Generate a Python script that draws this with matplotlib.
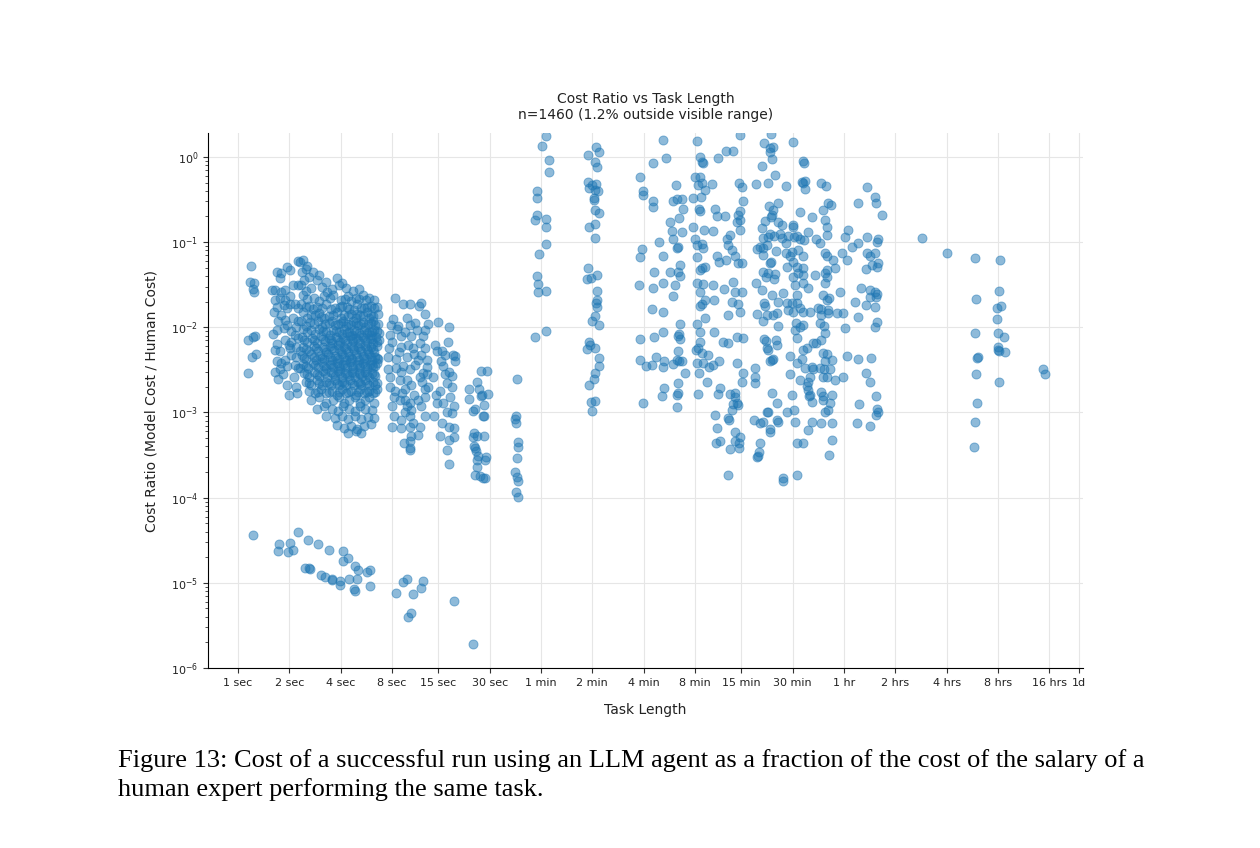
import matplotlib
matplotlib.use("Agg")
import matplotlib.pyplot as plt
from matplotlib.ticker import FixedLocator, LogLocator, NullFormatter

plt.rcParams['font.family'] = ['DejaVu Sans']

# (task length in seconds, model cost / human cost)
col_1s = [(1.2, 0.053), (1.17, 0.034), (1.24, 0.033), (1.22, 0.028), (1.25, 0.026), (1.15, 0.0071),
          (1.22, 0.0077), (1.26, 0.0080), (1.21, 0.0045), (1.28, 0.0049), (1.14, 0.0029)]

col_2s = [(1.69, 0.045), (1.76, 0.0376), (1.93, 0.051), (2.02, 0.047), (1.80, 0.043), (2.26, 0.060),
          (2.11, 0.031), (2.24, 0.031), (1.65, 0.0275), (1.80, 0.0262), (1.89, 0.0275), (1.65, 0.021),
          (1.76, 0.022), (1.89, 0.021), (2.02, 0.023), (1.69, 0.0175), (1.85, 0.0183), (1.93, 0.0167),
          (2.02, 0.019), (2.16, 0.019), (2.26, 0.0167), (1.58, 0.0275), (1.72, 0.0117), (1.89, 0.0122),
          (1.69, 0.0093), (1.85, 0.0097), (2.20, 0.0102), (2.26, 0.0117), (2.06, 0.0091), (1.89, 0.0071),
          (2.06, 0.0068), (2.26, 0.0075), (2.20, 0.0059), (2.02, 0.0057), (1.65, 0.0054), (1.76, 0.0052),
          (1.69, 0.0040), (1.80, 0.0038), (1.89, 0.0041), (2.06, 0.0047), (2.20, 0.0045), (1.65, 0.0030),
          (1.76, 0.0032), (1.93, 0.0035), (2.16, 0.0036), (2.26, 0.0033), (1.72, 0.0025), (1.93, 0.0021),
          (2.20, 0.0020), (1.62, 0.015), (1.78, 0.014), (2.1, 0.013), (1.95, 0.0105), (2.15, 0.0082),
          (1.7, 0.0064), (1.98, 0.0062), (2.12, 0.0026), (1.84, 0.0028), (2.0, 0.0016), (2.22, 0.0017),
          (1.6, 0.0083)]

col_4s = [
    (2.30, 0.058), (2.42, 0.062), (2.55, 0.052),
    (2.36, 0.045), (2.50, 0.048), (2.74, 0.044), (3.0, 0.041),
    (2.45, 0.036), (2.62, 0.039), (2.9, 0.036), (3.3, 0.034), (3.8, 0.038), (4.1, 0.033),
    (2.35, 0.031), (2.52, 0.027), (2.7, 0.029), (3.1, 0.030), (3.35, 0.026), (3.55, 0.028), (3.9, 0.031),
    (4.3, 0.029), (4.7, 0.027), (5.1, 0.028),
    (2.4, 0.024), (2.8, 0.022), (3.0, 0.0205), (3.2, 0.023), (3.6, 0.024), (4.0, 0.021), (4.4, 0.023),
    (4.6, 0.0205), (4.9, 0.022), (5.4, 0.024), (5.9, 0.022), (6.3, 0.021),
    (2.35, 0.019), (2.6, 0.018), (2.75, 0.0163), (2.9, 0.0175), (3.3, 0.019), (3.5, 0.0162), (3.7, 0.017),
    (4.1, 0.018), (4.5, 0.0165), (4.8, 0.016), (5.0, 0.019), (5.5, 0.017), (6.0, 0.018), (6.5, 0.0175),
    (2.4, 0.015), (2.55, 0.013), (2.7, 0.014), (3.0, 0.0148), (3.2, 0.0128), (3.4, 0.0135), (3.8, 0.015),
    (4.0, 0.013), (4.2, 0.014), (4.6, 0.0145), (4.9, 0.0128), (5.2, 0.0138), (5.7, 0.015), (5.9, 0.013),
    (6.2, 0.0135), (6.6, 0.0142),
    (2.35, 0.012), (2.5, 0.0104), (2.65, 0.0115), (2.95, 0.0118), (3.1, 0.0102), (3.25, 0.011), (3.55, 0.012),
    (3.85, 0.0108), (4.15, 0.0117), (4.3, 0.0103), (4.45, 0.011), (4.75, 0.0119), (5.05, 0.0107),
    (5.4, 0.0115), (5.6, 0.0101), (5.8, 0.0108), (6.2, 0.0118), (6.6, 0.011),
    (2.4, 0.0095), (2.7, 0.0092), (2.85, 0.0083), (3.0, 0.0096), (3.3, 0.0088), (3.45, 0.0082), (3.6, 0.0094),
    (3.9, 0.0087), (4.05, 0.0083), (4.2, 0.0095), (4.5, 0.0089), (4.65, 0.0082), (4.8, 0.0093), (5.1, 0.0086),
    (5.3, 0.0081), (5.5, 0.0094), (5.9, 0.0088), (6.0, 0.0082), (6.3, 0.0092), (6.7, 0.0086),
    (2.38, 0.0076), (2.55, 0.0068), (2.72, 0.0074), (2.9, 0.0066), (3.08, 0.0078), (3.22, 0.0069),
    (3.4, 0.0075), (3.58, 0.0065), (3.75, 0.0077), (3.95, 0.0068), (4.12, 0.0074), (4.35, 0.0066),
    (4.55, 0.0078), (4.75, 0.0069), (4.95, 0.0075), (5.2, 0.0065), (5.45, 0.0076), (5.7, 0.0068),
    (5.95, 0.0074), (6.2, 0.0066), (6.45, 0.0077), (6.7, 0.007),
    (2.42, 0.0059), (2.6, 0.0053), (2.78, 0.0061), (2.96, 0.0052), (3.14, 0.0058), (3.3, 0.0051),
    (3.48, 0.006), (3.66, 0.0054), (3.84, 0.0062), (4.02, 0.0052), (4.2, 0.0058), (4.4, 0.0051),
    (4.6, 0.0061), (4.82, 0.0054), (5.05, 0.0059), (5.3, 0.0052), (5.55, 0.006), (5.8, 0.0053),
    (6.05, 0.0058), (6.3, 0.0051), (6.55, 0.006), (2.3, 0.0052),
    (2.36, 0.0047), (2.52, 0.0042), (2.7, 0.0048), (2.88, 0.0041), (3.04, 0.0046), (3.2, 0.0042),
    (3.38, 0.0048), (3.55, 0.0041), (3.72, 0.0046), (3.9, 0.0043), (4.08, 0.0048), (4.28, 0.0041),
    (4.48, 0.0046), (4.68, 0.0042), (4.9, 0.0048), (5.12, 0.0041), (5.38, 0.0046), (5.62, 0.0043),
    (5.88, 0.0048), (6.12, 0.0041), (6.4, 0.0045), (6.65, 0.0042),
    (2.4, 0.0037), (2.58, 0.0033), (2.76, 0.0038), (2.94, 0.0034), (3.1, 0.0039), (3.28, 0.0033),
    (3.45, 0.0037), (3.62, 0.0034), (3.8, 0.0038), (3.98, 0.0033), (4.16, 0.0037), (4.36, 0.0034),
    (4.56, 0.0039), (4.76, 0.0033), (4.98, 0.0037), (5.2, 0.0034), (5.45, 0.0038), (5.7, 0.0033),
    (5.95, 0.0037), (6.2, 0.0034), (6.5, 0.0038), (2.32, 0.0033),
    (2.45, 0.0029), (2.62, 0.0026), (2.8, 0.003), (2.98, 0.0027), (3.16, 0.0031), (3.34, 0.0026),
    (3.52, 0.003), (3.7, 0.0027), (3.88, 0.0031), (4.06, 0.0026), (4.26, 0.0029), (4.46, 0.0027),
    (4.66, 0.003), (4.88, 0.0026), (5.1, 0.0029), (5.35, 0.0027), (5.6, 0.003), (5.85, 0.0026),
    (6.1, 0.0029), (6.4, 0.0027),
    (2.5, 0.0023), (2.7, 0.0021), (2.9, 0.0024), (3.1, 0.0021), (3.3, 0.0023), (3.5, 0.0021), (3.7, 0.0024),
    (3.9, 0.0021), (4.1, 0.0023), (4.3, 0.0021), (4.55, 0.0024), (4.8, 0.0021), (5.05, 0.0023),
    (5.3, 0.0021), (5.6, 0.0024), (5.9, 0.0021), (6.2, 0.0023), (6.5, 0.0022),
    (2.6, 0.0018), (2.85, 0.0017), (3.05, 0.0019), (3.3, 0.0017), (3.55, 0.0018), (3.8, 0.0016),
    (4.05, 0.0019), (4.3, 0.0017), (4.6, 0.0018), (4.9, 0.0016), (5.2, 0.0019), (5.5, 0.0017),
    (5.85, 0.0018), (6.2, 0.0017), (6.5, 0.0019),
    (2.7, 0.0014), (3.0, 0.0015), (3.3, 0.0013), (3.6, 0.0014), (3.9, 0.0015), (4.2, 0.0013), (4.5, 0.0014),
    (4.85, 0.0015), (5.2, 0.0013), (5.55, 0.0014), (5.9, 0.0015), (6.3, 0.0013),
    (2.9, 0.0011), (3.2, 0.0012), (3.55, 0.0011), (3.85, 0.00105), (4.15, 0.0012), (4.5, 0.0011),
    (4.85, 0.00103), (5.2, 0.0012), (5.6, 0.0011), (6.1, 0.00108),
    (3.3, 0.0009), (3.7, 0.00085), (4.05, 0.00092), (4.45, 0.00084), (4.85, 0.0009), (5.3, 0.00083),
    (5.8, 0.00088), (6.3, 0.00086),
    (3.8, 0.00072), (4.2, 0.00066), (4.6, 0.0007), (5.0, 0.00064), (5.5, 0.00069), (6.0, 0.00073),
    (4.4, 0.00058), (4.9, 0.0006), (5.3, 0.00057)]

# the packed middle of the 2-7 sec mass
col_4s_core = [
    (2.55, 0.0215), (3.45, 0.0218), (4.25, 0.0212), (5.15, 0.0216), (5.65, 0.021),
    (2.5, 0.0172), (3.1, 0.0168), (3.95, 0.0174), (4.35, 0.0171), (5.25, 0.0169), (5.75, 0.0173), (6.25, 0.0168),
    (2.85, 0.0139), (3.6, 0.0141), (4.4, 0.0137), (5.0, 0.0142), (5.45, 0.0136), (6.0, 0.014), (3.05, 0.0131),
    (2.8, 0.0108), (3.4, 0.0113), (3.7, 0.0105), (4.0, 0.0112), (4.6, 0.0106), (4.9, 0.0113), (5.25, 0.0109),
    (6.0, 0.0113), (6.4, 0.0105),
    (2.55, 0.0087), (3.15, 0.009), (3.75, 0.009), (4.35, 0.0086), (4.95, 0.009), (5.7, 0.0085), (6.15, 0.0089),
    (6.55, 0.009),
    (2.45, 0.0071), (2.8, 0.0071), (3.15, 0.0072), (3.5, 0.007), (3.85, 0.0071), (4.25, 0.0071), (4.65, 0.0072),
    (5.05, 0.007), (5.6, 0.0071), (6.1, 0.0072), (6.55, 0.0068),
    (2.5, 0.0056), (2.88, 0.0057), (3.22, 0.0055), (3.57, 0.0057), (3.93, 0.0056), (4.3, 0.0055), (4.7, 0.0057),
    (5.17, 0.0055), (5.68, 0.0056), (6.18, 0.0055),
    (2.45, 0.0044), (2.8, 0.0045), (3.13, 0.0044), (3.46, 0.0045), (3.8, 0.0044), (4.18, 0.0045), (4.58, 0.0044),
    (5.0, 0.0045), (5.5, 0.0044), (6.0, 0.0045), (6.55, 0.0044),
    (2.5, 0.0035), (2.85, 0.0036), (3.2, 0.0035), (3.53, 0.0036), (3.9, 0.0035), (4.26, 0.0036), (4.66, 0.0035),
    (5.1, 0.0036), (5.58, 0.0035), (6.08, 0.0036), (6.35, 0.0035),
    (2.55, 0.0028), (2.9, 0.0028), (3.25, 0.0029), (3.6, 0.0028), (3.97, 0.0029), (4.36, 0.0028), (4.77, 0.0029),
    (5.22, 0.0028), (5.72, 0.0028), (6.25, 0.0028),
    (2.6, 0.0022), (3.0, 0.0022), (3.4, 0.0022), (3.8, 0.0022), (4.2, 0.0022), (4.68, 0.0022), (5.18, 0.0022),
    (5.75, 0.0022), (6.35, 0.0021),
    (2.95, 0.00175), (3.42, 0.00172), (3.92, 0.00175), (4.45, 0.00172), (5.05, 0.00175), (5.68, 0.00172),
    (6.35, 0.00175)]

col_8s = [(8.34, 0.022), (9.3, 0.0187), (10.2, 0.0187), (11.9, 0.0195), (11.6, 0.0178), (12.5, 0.0144),
          (8.15, 0.0125), (9.8, 0.0127), (7.9, 0.0107), (8.7, 0.0104), (10.2, 0.0107), (11.3, 0.0093),
          (12.5, 0.0093), (7.8, 0.0081), (9.1, 0.0078), (10.4, 0.0079), (12.2, 0.0079), (8.0, 0.0068),
          (10.0, 0.0062), (11.7, 0.0065), (9.1, 0.0059), (10.6, 0.0057), (12.5, 0.0057), (7.6, 0.0045),
          (8.5, 0.0043), (9.8, 0.0045), (11.4, 0.0041), (12.8, 0.0041), (9.3, 0.0035), (10.2, 0.0032),
          (12.2, 0.0029), (7.8, 0.0026), (8.9, 0.0024), (9.8, 0.0024), (11.7, 0.0026), (12.8, 0.0028),
          (7.8, 0.0020), (8.3, 0.0018), (9.5, 0.0019), (10.4, 0.0021), (12.5, 0.0019), (13.1, 0.0020),
          (8.2, 0.0015), (8.9, 0.0014), (9.5, 0.0014), (10.2, 0.0013), (11.4, 0.0014), (12.5, 0.0015),
          (8.0, 0.0012), (9.8, 0.0012), (10.4, 0.00107), (12.5, 0.0009), (8.2, 0.0009), (9.1, 0.00082),
          (10.2, 0.0009), (10.7, 0.00075), (11.7, 0.00068), (8.0, 0.00068), (9.1, 0.00065), (10.2, 0.00068),
          (11.4, 0.00055), (10.4, 0.00053), (9.4, 0.00044), (10.2, 0.00046), (10.2, 0.00036), (10.2, 0.00038),
          (8.6, 0.0095), (9.6, 0.0088), (11.0, 0.0112), (7.7, 0.0057), (8.8, 0.0051), (10.8, 0.0049),
          (11.9, 0.0047), (8.4, 0.0033), (9.0, 0.0030), (11.0, 0.0036), (12.0, 0.0023), (9.2, 0.0017),
          (10.8, 0.0016), (11.9, 0.0012), (9.6, 0.0010), (12.9, 0.0034), (7.6, 0.0032), (13.0, 0.011)]

col_15s = [(14.9, 0.0115), (17.3, 0.0102), (17.1, 0.0068), (15.7, 0.0052), (16.4, 0.0047), (14.7, 0.0053),
           (18.3, 0.0047), (18.8, 0.0040), (18.8, 0.0046), (16.0, 0.0035), (17.2, 0.0030), (16.4, 0.0028),
           (16.8, 0.0022), (17.9, 0.0020), (15.3, 0.0018), (14.7, 0.0013), (16.0, 0.0013), (18.4, 0.0012),
           (16.8, 0.0010), (15.7, 0.00076), (17.2, 0.00068), (18.4, 0.00065), (17.9, 0.00098), (15.3, 0.00053),
           (17.2, 0.00048), (18.4, 0.00052), (16.8, 0.00036), (17.2, 0.00025), (14.3, 0.0062), (15.5, 0.0040),
           (14.0, 0.0026), (18.0, 0.0027), (14.5, 0.0016), (17.5, 0.0015), (14.2, 0.0009)]

col_30s = [(26.7, 0.0031), (28.9, 0.0031), (25.1, 0.0023), (22.6, 0.0019), (22.8, 0.00145), (26.0, 0.0019),
           (26.7, 0.00154), (26.9, 0.0016), (29.3, 0.00166), (27.8, 0.00123), (24.6, 0.0011), (24.0, 0.00104),
           (27.9, 0.00091), (25.1, 0.00053), (24.0, 0.00052), (27.8, 0.00053), (24.6, 0.00038), (24.9, 0.00035),
           (24.3, 0.0004), (25.3, 0.00028), (28.7, 0.0003), (28.1, 0.00028), (25.3, 0.00023), (24.6, 0.000186),
           (26.2, 0.00018), (28.1, 0.00017), (27.4, 0.00017), (24.3, 0.00058), (25.6, 0.00031), (27.3, 0.0009)]

col_45s = [(43.4, 0.00248), (43.0, 0.00091), (42.3, 0.00084), (43.0, 0.00076), (43.9, 0.000456),
           (44.1, 0.00039), (43.4, 0.00029), (42.3, 0.000202), (43.4, 0.000177), (44.1, 0.000155),
           (43.0, 0.000118), (44.1, 0.000103)]

col_1min = [(64, 1.76), (60.5, 1.35), (67, 0.92), (67, 0.67), (57.2, 0.40), (56.8, 0.33), (56.7, 0.21),
            (55.1, 0.18), (64.2, 0.187), (64, 0.152), (64, 0.094), (58, 0.072), (56.8, 0.040), (57.5, 0.032),
            (57.7, 0.026), (64.5, 0.027), (64.2, 0.009), (55.5, 0.0076)]

col_2min = [(126, 1.32), (131, 1.15), (113, 1.05), (124, 0.88), (128, 0.77), (113, 0.51), (114, 0.43),
            (120, 0.47), (126, 0.48), (130, 0.40), (124, 0.41), (122, 0.33), (122, 0.31), (124, 0.24),
            (131, 0.22), (125, 0.164), (115, 0.152), (124, 0.111), (113, 0.050), (112, 0.037), (118, 0.038),
            (127, 0.041), (127, 0.027), (127, 0.021), (126, 0.0195), (128, 0.0175), (125, 0.0137), (119, 0.012),
            (131, 0.0105), (114, 0.0068), (117, 0.0062), (112, 0.0055), (125, 0.0057), (131, 0.0044),
            (132, 0.0035), (124, 0.0029), (122, 0.0025), (115, 0.0021), (124, 0.00138), (118, 0.00131),
            (120, 0.00104)]

col_4to15min = [
    (310, 1.58), (491, 1.54), (878, 1.81), (271, 0.85), (323, 0.97), (511, 1.0), (525, 0.87), (532, 0.85),
    (652, 0.97), (726, 1.18), (798, 1.18), (230, 0.58), (237, 0.40), (237, 0.36), (370, 0.47), (478, 0.58),
    (511, 0.58), (497, 0.47), (525, 0.50), (547, 0.41), (601, 0.48), (271, 0.30), (271, 0.26), (355, 0.30),
    (375, 0.32), (401, 0.32), (407, 0.245), (465, 0.33), (518, 0.34), (504, 0.245), (511, 0.23), (626, 0.245),
    (643, 0.20), (717, 0.20), (866, 0.50), (902, 0.445), (914, 0.30), (878, 0.23), (855, 0.21), (843, 0.17),
    (878, 0.14), (878, 0.18), (341, 0.17), (385, 0.19), (351, 0.135), (402, 0.13), (355, 0.11), (465, 0.15),
    (540, 0.14), (609, 0.135), (294, 0.10), (380, 0.088), (375, 0.086), (478, 0.11), (525, 0.095),
    (491, 0.093), (736, 0.11), (767, 0.12), (746, 0.093), (788, 0.081), (234, 0.083), (227, 0.067),
    (310, 0.069), (532, 0.086), (643, 0.069), (661, 0.059), (726, 0.062), (820, 0.069), (855, 0.057),
    (902, 0.057), (491, 0.067), (525, 0.050), (511, 0.047), (547, 0.051), (390, 0.054), (341, 0.044),
    (380, 0.045), (390, 0.040), (275, 0.044), (224, 0.031), (271, 0.029), (310, 0.033), (365, 0.031),
    (355, 0.023), (491, 0.033), (511, 0.026), (532, 0.032), (609, 0.031), (525, 0.019), (511, 0.018),
    (547, 0.021), (547, 0.013), (618, 0.021), (707, 0.028), (798, 0.034), (820, 0.026), (788, 0.020),
    (902, 0.026), (855, 0.019), (267, 0.0165), (310, 0.015), (491, 0.011), (746, 0.014), (878, 0.015),
    (390, 0.011), (385, 0.0084), (380, 0.0079), (390, 0.0073), (227, 0.0073), (275, 0.0077), (310, 0.0088),
    (511, 0.0088), (618, 0.0088), (511, 0.0068), (484, 0.0054), (497, 0.0057), (697, 0.0068), (746, 0.0066),
    (843, 0.0077), (914, 0.0075), (569, 0.0047), (525, 0.0050), (380, 0.0053), (385, 0.0040), (375, 0.0041),
    (401, 0.0040), (230, 0.0041), (247, 0.0035), (267, 0.0036), (282, 0.0045), (318, 0.0040), (310, 0.0034),
    (355, 0.0037), (417, 0.0029), (491, 0.0038), (532, 0.0038), (583, 0.0034), (609, 0.0036), (661, 0.0040),
    (504, 0.0029), (843, 0.0038), (914, 0.0029), (902, 0.0023), (562, 0.0023), (380, 0.0022), (380, 0.0017),
    (375, 0.0016), (375, 0.00117), (318, 0.00192), (306, 0.00155), (237, 0.00128), (497, 0.00166),
    (670, 0.00192), (652, 0.00166), (767, 0.00166), (820, 0.0017), (820, 0.0015), (843, 0.0013),
    (855, 0.00122), (798, 0.00126), (788, 0.00107), (626, 0.00093), (746, 0.00085), (634, 0.00044),
    (670, 0.00046), (643, 0.00066), (756, 0.00082), (820, 0.00059), (878, 0.00051), (866, 0.00044),
    (820, 0.00046), (866, 0.00038), (767, 0.00037), (746, 0.000185)]

col_15to90min = [
    (1334, 1.86), (1214, 1.46), (1316, 1.28), (1370, 1.31), (1316, 1.145), (1796, 1.50), (1352, 0.947),
    (1181, 0.784), (1408, 0.615), (1089, 0.48), (1280, 0.495), (1633, 0.457), (2055, 0.90), (2083, 0.85),
    (2027, 0.51), (2055, 0.495), (2111, 0.52), (2111, 0.42), (2653, 0.495), (2805, 0.457), (4938, 0.445),
    (5435, 0.34), (5509, 0.288), (5975, 0.209), (4365, 0.288), (2880, 0.288), (3004, 0.273), (2692, 0.239),
    (2766, 0.182), (2843, 0.151), (1994, 0.227), (2321, 0.198), (1297, 0.266), (1370, 0.239), (1484, 0.288),
    (1352, 0.209), (1334, 0.198), (1230, 0.177), (1465, 0.172), (1550, 0.159), (1181, 0.147), (1105, 0.083),
    (1197, 0.112), (1280, 0.115), (1316, 0.125), (1389, 0.118), (1508, 0.125), (1550, 0.112), (1796, 0.159),
    (1796, 0.151), (1678, 0.118), (1820, 0.115), (1895, 0.118), (1975, 0.109), (2083, 0.106), (1633, 0.098),
    (2200, 0.132), (2450, 0.109), (2616, 0.098), (2843, 0.121), (3082, 0.062), (3775, 0.14), (3625, 0.115),
    (3984, 0.088), (4320, 0.098), (4938, 0.115), (5585, 0.10), (5661, 0.109), (1152, 0.088), (1197, 0.086),
    (1263, 0.093), (1197, 0.0707), (1427, 0.079), (1633, 0.075), (1772, 0.077), (1725, 0.0688), (1942, 0.081),
    (2055, 0.0688), (2766, 0.075), (2843, 0.0688), (3480, 0.075), (3722, 0.0618), (4938, 0.075), (5075, 0.069),
    (5435, 0.075), (5661, 0.057), (1316, 0.057), (1334, 0.059), (1197, 0.0448), (1280, 0.0436), (1246, 0.0394),
    (1408, 0.0424), (1389, 0.037), (1656, 0.051), (1796, 0.059), (1895, 0.051), (2055, 0.05), (1796, 0.0394),
    (1942, 0.0436), (2055, 0.041), (2416, 0.041), (2766, 0.0436), (2843, 0.0394), (2766, 0.033), (3166, 0.05),
    (2843, 0.047), (4870, 0.0483), (5218, 0.054), (5585, 0.051), (1089, 0.033), (1181, 0.0275), (1570, 0.0254),
    (1352, 0.024), (1214, 0.0194), (1230, 0.0178), (1484, 0.0199), (1656, 0.0194), (1845, 0.0314),
    (2055, 0.033), (2200, 0.029), (1895, 0.024), (2692, 0.024), (2922, 0.022), (2843, 0.021), (2880, 0.016),
    (2653, 0.0164), (3390, 0.026), (4550, 0.029), (5075, 0.0275), (5435, 0.026), (5585, 0.0247),
    (5075, 0.0227), (5509, 0.0227), (4149, 0.0199), (4870, 0.0183), (5435, 0.0174), (1772, 0.0194),
    (1895, 0.0194), (1994, 0.0169), (2055, 0.0152), (2260, 0.0152), (1796, 0.0152), (1678, 0.016),
    (1105, 0.0144), (1263, 0.014), (1370, 0.014), (1446, 0.0147), (1197, 0.0117), (1465, 0.0104),
    (2533, 0.0169), (2653, 0.014), (2880, 0.0147), (3253, 0.0147), (3528, 0.0147), (1869, 0.0113),
    (1994, 0.0101), (1845, 0.0093), (2055, 0.0107), (1895, 0.0075), (2616, 0.0113), (2729, 0.0104),
    (2766, 0.0086), (3625, 0.0099), (4320, 0.0132), (5435, 0.0101), (5585, 0.0115), (1214, 0.0073),
    (1246, 0.0069), (1427, 0.0071), (1446, 0.0062), (1263, 0.0057), (1352, 0.0041), (1316, 0.0040),
    (1370, 0.0042), (1280, 0.0054), (2055, 0.0054), (2168, 0.0057), (2352, 0.0066), (2450, 0.0066),
    (2621, 0.0071), (1725, 0.0046), (2027, 0.0043), (1895, 0.0038), (2692, 0.0050), (2843, 0.0048),
    (2766, 0.0040), (3042, 0.0041), (2960, 0.0032), (2729, 0.0032), (2616, 0.0033), (2692, 0.0026),
    (2843, 0.0026), (2321, 0.0034), (2111, 0.0033), (2352, 0.0032), (3722, 0.0046), (4320, 0.0042),
    (5146, 0.0044), (1074, 0.0033), (1074, 0.0026), (1074, 0.0022), (1725, 0.0028), (1975, 0.0024),
    (2200, 0.0023), (2260, 0.0026), (3528, 0.0026), (3166, 0.0024), (4870, 0.0029), (5075, 0.0023),
    (2168, 0.00204), (2200, 0.00184), (2260, 0.0016), (2321, 0.00131), (2230, 0.00155), (2653, 0.00172),
    (2692, 0.00155), (2692, 0.0014), (3042, 0.0016), (2960, 0.00128), (1772, 0.0016), (1352, 0.0017),
    (1446, 0.00128), (4380, 0.00125), (5509, 0.00155), (5585, 0.0011), (5661, 0.0010), (5509, 0.00093),
    (1263, 0.00102), (1280, 0.00102), (1060, 0.00082), (1152, 0.00075), (1197, 0.00077), (1316, 0.00064),
    (1316, 0.00059), (1484, 0.00077), (1446, 0.00082), (1656, 0.0010), (1820, 0.00107), (1845, 0.00077),
    (2321, 0.00077), (2653, 0.00075), (2766, 0.00102), (2880, 0.00107), (3042, 0.00075), (4260, 0.00075),
    (5075, 0.00069), (2200, 0.00062), (1895, 0.00044), (2055, 0.00044), (1152, 0.00044), (1138, 0.00034),
    (1105, 0.00030), (1120, 0.00031), (3042, 0.00048), (2922, 0.00032), (1570, 0.000168), (1570, 0.000155),
    (1895, 0.000185)]

col_hours = [(10300, 0.112), (14500, 0.0747), (21100, 0.0653), (29500, 0.0618), (29100, 0.0267),
             (21400, 0.0215), (28500, 0.0169), (29900, 0.0178), (28500, 0.0126), (21100, 0.0086),
             (28800, 0.0086), (31100, 0.0077), (28800, 0.0059), (28800, 0.0054), (29200, 0.0053),
             (31800, 0.0051), (22100, 0.0045), (21700, 0.0044), (21400, 0.0028), (29200, 0.0023),
             (52900, 0.0032), (54400, 0.0028), (21700, 0.0013), (21100, 0.00078), (20800, 0.00039)]

cheap_runs = [(1.22, 3.6e-5), (1.75, 2.87e-5), (2.02, 2.97e-5), (1.72, 2.38e-5), (1.96, 2.29e-5),
              (2.11, 2.44e-5), (2.26, 3.9e-5), (2.58, 3.2e-5), (2.93, 2.87e-5), (3.41, 2.46e-5),
              (4.12, 2.34e-5), (4.44, 1.95e-5), (4.15, 1.78e-5), (4.86, 1.58e-5), (5.07, 1.42e-5),
              (5.95, 1.4e-5), (5.75, 1.34e-5), (2.47, 1.51e-5), (2.64, 1.45e-5), (2.6, 1.48e-5),
              (3.06, 1.22e-5), (3.24, 1.17e-5), (3.54, 1.1e-5), (3.58, 1.08e-5), (3.97, 1.05e-5),
              (3.97, 9.4e-6), (4.48, 1.1e-5), (5.0, 1.12e-5), (4.8, 8.4e-6), (4.86, 8.1e-6), (5.95, 9.1e-6),
              (9.3, 1.03e-5), (9.75, 1.1e-5), (8.5, 7.6e-6), (10.7, 7.4e-6), (12.2, 1.05e-5), (11.8, 8.8e-6),
              (10.3, 4.4e-6), (9.9, 4.0e-6), (18.4, 6.2e-6), (23.8, 1.93e-6)]

tick_seconds = [1, 2, 4, 8, 15, 30, 60, 120, 240, 480, 900, 1800, 3600, 7200, 14400, 28800, 57600, 86400]
tick_labels = ['1 sec', '2 sec', '4 sec', '8 sec', '15 sec', '30 sec', '1 min', '2 min', '4 min', '8 min',
               '15 min', '30 min', '1 hr', '2 hrs', '4 hrs', '8 hrs', '16 hrs', '1d']

groups = [col_1s, col_2s, col_4s, col_4s_core, col_8s, col_15s, col_30s, col_45s, col_1min, col_2min,
          col_4to15min, col_15to90min, col_hours, cheap_runs]
pts = [p for g in groups for p in g]
xs = [p[0] for p in pts]
ys = [p[1] for p in pts]

fig = plt.figure(figsize=(12.6, 8.48), dpi=100)
ax = fig.add_axes([208 / 1260, 180 / 848, 875 / 1260, 535 / 848])

ax.scatter(xs, ys, s=42, color='#1f77b4', alpha=0.5, edgecolors='#1f77b4', linewidths=0.7, zorder=3)

ax.set_xscale('log')
ax.set_yscale('log')
ax.set_xlim(0.667, 90800)
ax.set_ylim(1e-6, 1.91)

ax.xaxis.set_major_locator(FixedLocator(tick_seconds))
ax.set_xticklabels(tick_labels)
ax.xaxis.set_minor_formatter(NullFormatter())
ax.xaxis.set_minor_locator(FixedLocator([]))
ax.yaxis.set_major_locator(LogLocator(base=10, numticks=10))
ax.yaxis.set_minor_locator(LogLocator(base=10, subs=range(2, 10), numticks=10))
ax.yaxis.set_minor_formatter(NullFormatter())

ax.tick_params(axis='both', which='major', labelsize=8, length=3.5, width=0.8, color='#333333',
               labelcolor='#222222')
ax.tick_params(axis='y', which='minor', length=2, width=0.6, color='#333333')
ax.grid(True, which='major', color='#e6e6e6', linewidth=0.8, zorder=0)
ax.set_axisbelow(True)
for side in ['top', 'right']:
    ax.spines[side].set_visible(False)
for side in ['left', 'bottom']:
    ax.spines[side].set_linewidth(0.8)

ax.set_title('Cost Ratio vs Task Length\nn=1460 (1.2% outside visible range)', fontsize=10,
             linespacing=1.2, pad=10, color='#222222')
ax.set_xlabel('Task Length', fontsize=10, color='#222222')
ax.set_ylabel('Cost Ratio (Model Cost / Human Cost)', fontsize=10, color='#222222')
ax.xaxis.set_label_coords(0.5, -0.066)
ax.yaxis.set_label_coords(-0.057, 0.5)

fig.text(118 / 1260, 1 - 775 / 848,
         'Figure 13: Cost of a successful run using an LLM agent as a fraction of the cost of the salary of a\n'
         'human expert performing the same task.',
         family='Liberation Serif', fontsize=19, va='center', ha='left', linespacing=1.38)

fig.savefig('out.png', dpi=100)
